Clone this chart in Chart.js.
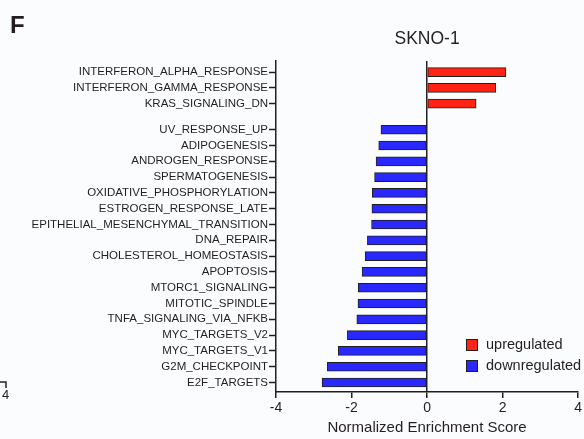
<!DOCTYPE html>
<html>
<head>
<meta charset="utf-8">
<script src="https://cdn.jsdelivr.net/npm/chart.js@4"></script>
<style>
  html, body { margin: 0; padding: 0; background: #fbfcfe; }
  #wrap { width: 584px; height: 439px; }
</style>
</head>
<body>
<div id="wrap"><canvas id="nesChart" width="584" height="439"></canvas></div>
<script>
// hallmark gene sets, SKNO-1
const upTerms = [
  "INTERFERON_ALPHA_RESPONSE",
  "INTERFERON_GAMMA_RESPONSE",
  "KRAS_SIGNALING_DN",
];
const upNES = [2.09, 1.82, 1.30];

const downTerms = [
  "UV_RESPONSE_UP",
  "ADIPOGENESIS",
  "ANDROGEN_RESPONSE",
  "SPERMATOGENESIS",
  "OXIDATIVE_PHOSPHORYLATION",
  "ESTROGEN_RESPONSE_LATE",
  "EPITHELIAL_MESENCHYMAL_TRANSITION",
  "DNA_REPAIR",
  "CHOLESTEROL_HOMEOSTASIS",
  "APOPTOSIS",
  "MTORC1_SIGNALING",
  "MITOTIC_SPINDLE",
  "TNFA_SIGNALING_VIA_NFKB",
  "MYC_TARGETS_V2",
  "MYC_TARGETS_V1",
  "G2M_CHECKPOINT",
  "E2F_TARGETS",
];
const downNES = [-1.22, -1.28, -1.35, -1.39, -1.45, -1.46, -1.47, -1.58, -1.64,
  -1.72, -1.82, -1.83, -1.86, -2.11, -2.35, -2.64, -2.78];

const xTicks = [-4, -2, 0, 2, 4];

const ink = "#231f20";
const font = "'Liberation Sans', Arial, Helvetica, sans-serif";

// row positions on the y scale, with a small gap between the two groups
const groupGap = 0.65;
const upRows = upTerms.map((t, i) => i);
const downRows = downTerms.map((t, i) => upTerms.length + groupGap + i);
const allRows = upRows.concat(downRows);
const allTerms = upTerms.concat(downTerms);

const extras = {
  id: "extras",
  afterDraw(chart) {
    const ctx = chart.ctx;
    const area = chart.chartArea;
    ctx.save();
    ctx.fillStyle = ink;
    ctx.textBaseline = "alphabetic";

    // panel letter
    ctx.font = "bold 24px " + font;
    ctx.textAlign = "left";
    ctx.fillText("F", 10, 33);

    // title over the zero line
    ctx.font = "17.5px " + font;
    ctx.textAlign = "center";
    ctx.fillText("SKNO-1", (area.left + area.right) / 2, 44);

    // legend
    ctx.font = "14.5px " + font;
    ctx.textAlign = "left";
    ctx.textBaseline = "middle";
    chart.data.datasets.forEach((ds, i) => {
      const y = 339 + i * 21;
      ctx.fillStyle = ds.backgroundColor;
      ctx.fillRect(466, y, 12, 12);
      ctx.strokeStyle = ink;
      ctx.lineWidth = 1;
      ctx.strokeRect(466.5, y + 0.5, 11, 11);
      ctx.fillStyle = ink;
      ctx.fillText(ds.label, 486, y + 6);
    });

    // edge of the neighbouring axis
    ctx.strokeStyle = ink;
    ctx.lineWidth = 1.5;
    ctx.beginPath();
    ctx.moveTo(0, 382);
    ctx.lineTo(6, 382);
    ctx.lineTo(6, 388);
    ctx.stroke();
    ctx.font = "13px " + font;
    ctx.textBaseline = "alphabetic";
    ctx.fillText("4", 2, 399);
    ctx.restore();
  },
};

new Chart(document.getElementById("nesChart"), {
  type: "bar",
  data: {
    datasets: [
      {
        label: "upregulated",
        data: upNES.map((v, i) => ({ x: v, y: upRows[i] })),
        backgroundColor: "#ff2314",
        borderColor: ink,
        borderWidth: 1,
        borderSkipped: false,
        barThickness: 9,
        grouped: false,
      },
      {
        label: "downregulated",
        data: downNES.map((v, i) => ({ x: v, y: downRows[i] })),
        backgroundColor: "#2828ff",
        borderColor: ink,
        borderWidth: 1,
        borderSkipped: false,
        barThickness: 9,
        grouped: false,
      },
    ],
  },
  options: {
    indexAxis: "y",
    responsive: false,
    animation: false,
    events: [],
    layout: { padding: { top: 61, right: 4, bottom: 0, left: 0 } },
    plugins: {
      legend: { display: false },
      tooltip: { enabled: false },
    },
    scales: {
      x: {
        type: "linear",
        min: -4,
        max: 4,
        afterBuildTicks: (scale) => {
          scale.ticks = xTicks.map((v) => ({ value: v }));
        },
        afterFit: (scale) => {
          scale.height = 47;
        },
        ticks: {
          color: ink,
          font: { family: font, size: 14 },
          padding: 2,
        },
        grid: {
          color: (c) => (c.tick && c.tick.value === 0 ? ink : "rgba(0,0,0,0)"),
          lineWidth: 1.5,
          tickColor: ink,
          tickWidth: 1.5,
          tickLength: 6,
        },
        border: { display: true, color: ink, width: 1.5 },
        title: {
          display: true,
          text: "Normalized Enrichment Score",
          color: ink,
          font: { family: font, size: 15 },
          padding: { top: 0, bottom: 2 },
        },
      },
      y: {
        type: "linear",
        reverse: true,
        offset: false,
        min: -0.7,
        max: 20.25,
        afterBuildTicks: (scale) => {
          scale.ticks = allRows.map((v) => ({ value: v }));
        },
        afterFit: (scale) => {
          scale.width = 276;
        },
        ticks: {
          color: ink,
          font: { family: font, size: 11.5 },
          padding: 1,
          autoSkip: false,
          callback: (value, index) => allTerms[index],
        },
        grid: {
          offset: false,
          drawOnChartArea: false,
          tickColor: ink,
          tickWidth: 1.5,
          tickLength: 7,
        },
        border: { display: true, color: ink, width: 1.5 },
      },
    },
  },
  plugins: [extras],
});
</script>
</body>
</html>
